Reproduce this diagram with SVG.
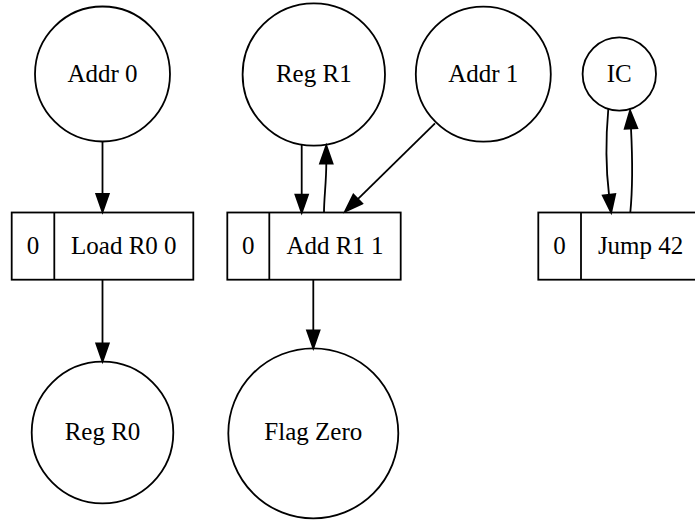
<svg xmlns="http://www.w3.org/2000/svg" width="695" height="520" viewBox="0 0 695 520">
  <defs>
    <marker id="arrow" markerUnits="userSpaceOnUse" markerWidth="24" markerHeight="18" viewBox="-2 -9 24 18" refX="0" refY="0" orient="auto" overflow="visible">
      <path d="M0,-6.3 L18,0 L0,6.3 Z" fill="#000" stroke="#000" stroke-width="1.8" stroke-linejoin="miter"/>
    </marker>
    <style>
      .shape { fill: none; stroke: #000; stroke-width: 1.8; }
      .edge { fill: none; stroke: #000; stroke-width: 1.8; marker-end: url(#arrow); }
      text { font-family: "Liberation Serif", "Times New Roman", serif; font-size: 25px; fill: #000; text-anchor: middle; }
    </style>
  </defs>
  <rect x="0" y="0" width="695" height="520" fill="#fff"/>

  <!-- operand and register nodes -->
  <g id="addr0">
    <circle class="shape" cx="102.5" cy="74" r="67.5"/>
    <text x="102.5" y="81.5">Addr 0</text>
  </g>
  <g id="regR1">
    <circle class="shape" cx="313.8" cy="74.5" r="71.2"/>
    <text x="313.8" y="81.5">Reg R1</text>
  </g>
  <g id="addr1">
    <circle class="shape" cx="483.3" cy="74.2" r="67.5"/>
    <text x="483.3" y="81.5">Addr 1</text>
  </g>
  <g id="ic">
    <circle class="shape" cx="619.3" cy="74" r="36.7"/>
    <text x="619.3" y="81.5">IC</text>
  </g>

  <!-- instruction records -->
  <g id="load">
    <rect class="shape" x="11.7" y="212.5" width="181.6" height="67.2"/>
    <line class="shape" x1="54.3" y1="212.5" x2="54.3" y2="279.7"/>
    <text x="33" y="253.5">0</text>
    <text x="123.8" y="253.5">Load R0 0</text>
  </g>
  <g id="add">
    <rect class="shape" x="227.3" y="212.5" width="173.4" height="67.2"/>
    <line class="shape" x1="269.3" y1="212.5" x2="269.3" y2="279.7"/>
    <text x="248.3" y="253.5">0</text>
    <text x="335" y="253.5">Add R1 1</text>
  </g>
  <g id="jump">
    <rect class="shape" x="538.3" y="212.5" width="162" height="67.2"/>
    <line class="shape" x1="581" y1="212.5" x2="581" y2="279.7"/>
    <text x="559.6" y="253.5">0</text>
    <text x="640.6" y="253.5">Jump 42</text>
  </g>

  <!-- result nodes -->
  <g id="regR0">
    <circle class="shape" cx="102.5" cy="432.5" r="70.8"/>
    <text x="102.5" y="440">Reg R0</text>
  </g>
  <g id="flagZero">
    <circle class="shape" cx="313.3" cy="433.3" r="85"/>
    <text x="313.3" y="440">Flag Zero</text>
  </g>

  <!-- connectors -->
  <g id="edges">
    <path class="edge" d="M102.5,141.5 L102.5,194"/>
    <path class="edge" d="M102.5,279.7 L102.5,343.5"/>
    <path class="edge" d="M301.7,144.8 L301.7,194.7"/>
    <path class="edge" d="M324,212.5 C324,198 326.3,182 326.3,163.5"/>
    <path class="edge" d="M435,123.3 L357.8,199.1"/>
    <path class="edge" d="M313.3,279.7 L313.3,330.3"/>
    <path class="edge" d="M608.3,109 C606,135 606,170 609,194.7"/>
    <path class="edge" d="M630.3,212.5 C632.5,190 632.5,158 631,128.5"/>
  </g>
</svg>
